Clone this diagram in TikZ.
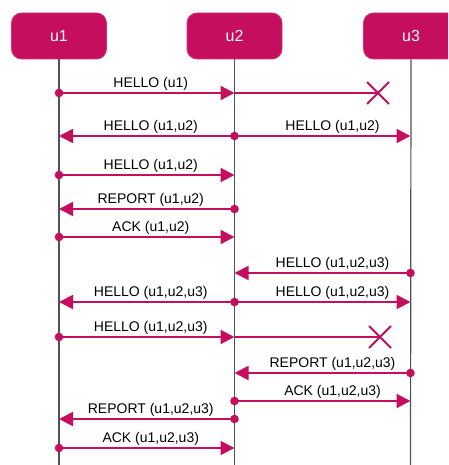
\documentclass[tikz,border=0pt]{standalone}
\usepackage{fontspec}
\setmainfont{Liberation Sans}
\usetikzlibrary{arrows.meta}
\definecolor{mag}{RGB}{198,14,94}
\definecolor{lifegray}{RGB}{80,80,80}
\tikzset{
  actor/.style={fill=mag, draw=mag!85!white, line width=0.8pt, rounded corners=10pt,
    minimum width=95pt, minimum height=46pt, text=white, font=\fontsize{16}{18}\selectfont, inner sep=0pt},
  lifeline/.style={draw=lifegray, line width=1.2pt},
  msg/.style={draw=mag, line width=2pt, -{Triangle[length=14pt,width=14pt]}},
  lost/.style={draw=mag, line width=2pt},
  lbl/.style={anchor=base, yshift=5.5pt, xshift=4pt, inner sep=0pt, text=black, font=\fontsize{14}{16}\selectfont},
  lblr/.style={lbl, xshift=6pt},
  dot/.style={fill=mag},
  cross/.style={draw=mag, line width=2pt}
}
\begin{document}
\begin{tikzpicture}[x=1pt,y=-1pt]
\useasboundingbox (0,0) rectangle (448,465);
\clip (0,0) rectangle (448,465);
% actors
\node[actor] (u1) at (59,36) {u1};
\node[actor] (u2) at (234.5,36) {u2};
\node[actor] (u3) at (411,36) {u3};
% lifelines
\coordinate (e1) at (59,470);
\coordinate (e2) at (234.5,470);
\coordinate (e3) at (410.5,470);
\draw[lifeline] (u1.south) -- (e1);
\draw[lifeline] (u2.south) -- (e2);
\draw[lifeline] (u3.south) -- (e3);
% row anchors
\foreach \r/\y in {1/93,2/136,3/175,4/209,5/237,6/273,7/302,8/337,9/373,10/401,11/419,12/448}{
  \coordinate (A\r) at (59,\y);
  \coordinate (B\r) at (234.5,\y);
  \coordinate (C\r) at (410.5,\y);
}
\coordinate (X1) at (378,93);
\coordinate (X8) at (380,337);
% row 1
\draw[msg] (A1) -- node[lbl]{HELLO (u1)} (B1);
\draw[lost] (B1) -- (X1);
\draw[cross] (X1) ++(-11,-11) -- ++(22,22);
\draw[cross] (X1) ++(-11,11) -- ++(22,-22);
\fill[dot] (A1) circle (4.3pt);
% row 2
\draw[msg] (B2) -- node[lbl]{HELLO (u1,u2)} (A2);
\draw[msg] (B2) -- node[lblr]{HELLO (u1,u2)} (C2);
\fill[dot] (B2) circle (4.3pt);
% row 3
\draw[msg] (A3) -- node[lbl]{HELLO (u1,u2)} (B3);
\fill[dot] (A3) circle (4.3pt);
% row 4
\draw[msg] (B4) -- node[lbl]{REPORT (u1,u2)} (A4);
\fill[dot] (B4) circle (4.3pt);
% row 5
\draw[msg] (A5) -- node[lbl]{ACK (u1,u2)} (B5);
\fill[dot] (A5) circle (4.3pt);
% row 6
\draw[msg] (C6) -- node[lblr]{HELLO (u1,u2,u3)} (B6);
\fill[dot] (C6) circle (4.3pt);
% row 7
\draw[msg] (B7) -- node[lbl]{HELLO (u1,u2,u3)} (A7);
\draw[msg] (B7) -- node[lblr]{HELLO (u1,u2,u3)} (C7);
\fill[dot] (B7) circle (4.3pt);
% row 8
\draw[msg] (A8) -- node[lbl]{HELLO (u1,u2,u3)} (B8);
\draw[lost] (B8) -- (X8);
\draw[cross] (X8) ++(-11,-11) -- ++(22,22);
\draw[cross] (X8) ++(-11,11) -- ++(22,-22);
\fill[dot] (A8) circle (4.3pt);
% row 9
\draw[msg] (C9) -- node[lblr]{REPORT (u1,u2,u3)} (B9);
\fill[dot] (C9) circle (4.3pt);
% row 10
\draw[msg] (B10) -- node[lblr]{ACK (u1,u2,u3)} (C10);
\fill[dot] (B10) circle (4.3pt);
% row 11
\draw[msg] (B11) -- node[lbl]{REPORT (u1,u2,u3)} (A11);
\fill[dot] (B11) circle (4.3pt);
% row 12
\draw[msg] (A12) -- node[lbl]{ACK (u1,u2,u3)} (B12);
\fill[dot] (A12) circle (4.3pt);
\end{tikzpicture}
\end{document}
